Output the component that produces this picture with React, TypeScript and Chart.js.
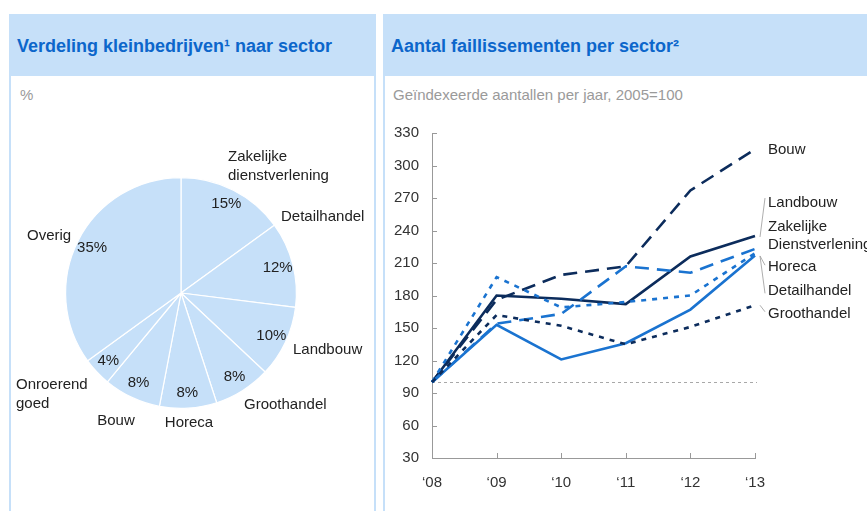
import React, { useEffect, useRef } from 'react';
import { Chart, registerables } from 'chart.js';

Chart.register(...registerables);

const FONT = '"Liberation Sans", Arial, Helvetica, sans-serif';
const PANEL_BLUE = '#c6e0f9';
const TITLE_BLUE = '#0c66cb';
const NAVY = '#0c2c5c';
const BLUE = '#1a73d0';
const TEXT_SIZE = 15;

// ---------- Pie data ----------
const sectors = [
  'Zakelijke dienstverlening',
  'Detailhandel',
  'Landbouw',
  'Groothandel',
  'Horeca',
  'Bouw',
  'Onroerend goed',
  'Overig',
];
const shares = [15, 12, 10, 8, 8, 8, 4, 35];
const sectorLabelLines = [
  ['Zakelijke', 'dienstverlening'],
  ['Detailhandel'],
  ['Landbouw'],
  ['Groothandel'],
  ['Horeca'],
  ['Bouw'],
  ['Onroerend', 'goed'],
  ['Overig'],
];

// label placement relative to pie centre (layout only)
const sectorLabelLayout: { dx: number; dy: number; align: CanvasTextAlign }[] = [
  { dx: 47, dy: -136, align: 'left' },
  { dx: 100, dy: -76, align: 'left' },
  { dx: 112, dy: 57, align: 'left' },
  { dx: 63, dy: 112, align: 'left' },
  { dx: 8, dy: 130, align: 'center' },
  { dx: -65, dy: 128, align: 'center' },
  { dx: -165, dy: 92, align: 'left' },
  { dx: -154, dy: -57, align: 'left' },
];

// ---------- Line data ----------
const years = ['\u201808', '\u201809', '\u201810', '\u201811', '\u201812', '\u201813'];
const bouw = [100, 176, 199, 207, 277, 315];
const landbouw = [100, 180, 177, 172, 216, 235];
const zakelijke = [100, 154, 163, 207, 201, 223];
const horeca = [100, 153, 121, 136, 167, 217];
const detailhandel = [100, 197, 169, 174, 180, 219];
const groothandel = [100, 162, 152, 135, 151, 171];
const yMin = 30;
const yMax = 330;
const yStep = 30;
const baseValue = 100;

const seriesNames = ['Groothandel', 'Detailhandel', 'Horeca', 'Zakelijke Dienstverlening', 'Bouw', 'Landbouw'];
const seriesValues = [groothandel, detailhandel, horeca, zakelijke, bouw, landbouw];
const seriesColors = [NAVY, BLUE, BLUE, BLUE, NAVY, NAVY];
const seriesDashes = [[5, 6], [5, 6], [], [14, 8], [14, 8], []];

// end labels, anchored in value units
const endLabels = [
  { lines: ['Bouw'], at: 314 },
  { lines: ['Landbouw'], at: 265.5 },
  { lines: ['Zakelijke', 'Dienstverlening'], at: 243.5 },
  { lines: ['Horeca'], at: 206.5 },
  { lines: ['Detailhandel'], at: 184.5 },
  { lines: ['Groothandel'], at: 163.5 },
];
const leaders = [
  { from: 234, to: 270 },
  { from: 216.5, to: 208 },
  { from: 216.5, to: 182 },
  { from: 171, to: 165 },
];

const pieLabelPlugin = {
  id: 'pieLabels',
  afterDraw(chart: any) {
    const { ctx } = chart;
    const arcs = chart.getDatasetMeta(0).data as any[];
    ctx.save();
    ctx.font = `${TEXT_SIZE}px ${FONT}`;
    ctx.fillStyle = '#222';
    ctx.textBaseline = 'middle';
    arcs.forEach((arc, i) => {
      const { x, y, startAngle, endAngle, outerRadius } = arc.getProps(
        ['x', 'y', 'startAngle', 'endAngle', 'outerRadius'],
        true
      );
      const mid = (startAngle + endAngle) / 2;
      const r = outerRadius * 0.865;
      ctx.textAlign = 'center';
      ctx.fillText(shares[i] + '%', x + Math.cos(mid) * r, y + Math.sin(mid) * r);
      const lay = sectorLabelLayout[i];
      ctx.textAlign = lay.align;
      sectorLabelLines[i].forEach((t, k) => {
        ctx.fillText(t, x + lay.dx, y + lay.dy + k * 18.5);
      });
    });
    ctx.restore();
  },
};

const linePlugin = {
  id: 'lineExtras',
  beforeDatasetsDraw(chart: any) {
    const { ctx, chartArea, scales } = chart;
    const x = scales.x;
    const y = scales.y;
    const yy = Math.round(y.getPixelForValue(baseValue)) + 0.5;
    ctx.save();
    ctx.strokeStyle = '#a8a8a8';
    ctx.lineWidth = 1;
    ctx.setLineDash([3, 3]);
    ctx.beginPath();
    ctx.moveTo(chartArea.left, yy);
    ctx.lineTo(chartArea.right + 2, yy);
    ctx.stroke();
    ctx.setLineDash([]);
    ctx.strokeStyle = '#999';
    ctx.beginPath();
    y.ticks.forEach((t: any) => {
      const p = Math.round(y.getPixelForValue(t.value)) + 0.5;
      ctx.moveTo(chartArea.left, p);
      ctx.lineTo(chartArea.left + 5, p);
    });
    x.ticks.forEach((_t: any, i: number) => {
      const p = Math.round(x.getPixelForTick(i)) + 0.5;
      ctx.moveTo(p, chartArea.bottom);
      ctx.lineTo(p, chartArea.bottom - 5);
    });
    ctx.stroke();
    ctx.restore();
  },
  afterDraw(chart: any) {
    const { ctx, chartArea, scales } = chart;
    const y = scales.y;
    ctx.save();
    ctx.font = `${TEXT_SIZE}px ${FONT}`;
    ctx.fillStyle = '#222';
    ctx.textBaseline = 'middle';
    ctx.textAlign = 'left';
    endLabels.forEach((l) => {
      const p = y.getPixelForValue(l.at);
      l.lines.forEach((t, k) => ctx.fillText(t, chartArea.right + 13, p + k * 18.3));
    });
    ctx.strokeStyle = '#999';
    ctx.lineWidth = 0.8;
    ctx.beginPath();
    leaders.forEach((ld) => {
      ctx.moveTo(chartArea.right + 5, y.getPixelForValue(ld.from));
      ctx.lineTo(chartArea.right + 10, y.getPixelForValue(ld.to));
    });
    ctx.stroke();
    ctx.restore();
  },
};

function PieChart() {
  const ref = useRef<HTMLCanvasElement>(null);
  useEffect(() => {
    const chart = new Chart(ref.current as HTMLCanvasElement, {
      type: 'pie',
      data: {
        labels: sectors,
        datasets: [
          {
            data: shares,
            backgroundColor: PANEL_BLUE,
            borderColor: '#ffffff',
            borderWidth: 1.2,
          },
        ],
      },
      options: {
        responsive: false,
        maintainAspectRatio: false,
        animation: false,
        layout: { padding: { left: 54, right: 77, top: 101, bottom: 102 } },
        plugins: { legend: { display: false }, tooltip: { enabled: false } },
      },
      plugins: [pieLabelPlugin],
    } as any);
    return () => chart.destroy();
  }, []);
  return (
    <canvas
      ref={ref}
      width={363}
      height={435}
      style={{ position: 'absolute', left: 11, top: 76, width: 363, height: 435 }}
    />
  );
}

function LineChart() {
  const ref = useRef<HTMLCanvasElement>(null);
  useEffect(() => {
    const chart = new Chart(ref.current as HTMLCanvasElement, {
      type: 'line',
      data: {
        labels: years,
        datasets: seriesValues.map((vals, i) => ({
          label: seriesNames[i],
          data: vals,
          borderColor: seriesColors[i],
          backgroundColor: seriesColors[i],
          borderDash: seriesDashes[i],
          borderWidth: 2.6,
          pointRadius: 0,
          tension: 0,
          fill: false,
        })),
      },
      options: {
        responsive: false,
        maintainAspectRatio: false,
        animation: false,
        layout: { padding: { top: 57, right: 112, left: 0, bottom: 0 } },
        plugins: { legend: { display: false }, tooltip: { enabled: false } },
        scales: {
          x: {
            offset: false,
            grid: { display: false, drawTicks: false },
            border: { display: true, color: '#999', width: 1 },
            ticks: {
              font: { size: TEXT_SIZE, family: FONT },
              color: '#333',
              padding: 16,
              maxRotation: 0,
              autoSkip: false,
            },
            afterFit: (s: any) => {
              s.height = 53;
            },
          },
          y: {
            min: yMin,
            max: yMax,
            grid: { display: false, drawTicks: false },
            border: { display: true, color: '#999', width: 1 },
            ticks: {
              stepSize: yStep,
              font: { size: TEXT_SIZE, family: FONT },
              color: '#333',
              padding: 13,
            },
            afterFit: (s: any) => {
              s.width = 47;
            },
          },
        },
      },
      plugins: [linePlugin],
    } as any);
    return () => chart.destroy();
  }, []);
  return (
    <canvas
      ref={ref}
      width={482}
      height={435}
      style={{ position: 'absolute', left: 385, top: 76, width: 482, height: 435 }}
    />
  );
}

const titleStyle: React.CSSProperties = {
  position: 'absolute',
  top: 36,
  fontFamily: FONT,
  fontWeight: 'bold',
  fontSize: 18,
  lineHeight: '20px',
  color: TITLE_BLUE,
  whiteSpace: 'nowrap',
};
const subStyle: React.CSSProperties = {
  position: 'absolute',
  top: 86,
  fontFamily: FONT,
  fontSize: 15,
  lineHeight: '17px',
  color: '#9a9a9a',
  whiteSpace: 'nowrap',
};

export default function App() {
  return (
    <div
      style={{
        position: 'absolute',
        left: 0,
        top: 0,
        width: 867,
        height: 511,
        overflow: 'hidden',
        background: '#fff',
      }}
    >
      {/* left panel */}
      <div style={{ position: 'absolute', left: 9, top: 14, width: 367, height: 62, background: PANEL_BLUE }} />
      <div
        style={{
          position: 'absolute',
          left: 9,
          top: 76,
          width: 367,
          height: 435,
          boxSizing: 'border-box',
          borderLeft: `2px solid ${PANEL_BLUE}`,
          borderRight: `2px solid ${PANEL_BLUE}`,
        }}
      />
      <div style={{ ...titleStyle, left: 17 }}>Verdeling kleinbedrijven¹ naar sector</div>
      <div style={{ ...subStyle, left: 20 }}>%</div>
      <PieChart />

      {/* right panel */}
      <div style={{ position: 'absolute', left: 383, top: 14, width: 484, height: 62, background: PANEL_BLUE }} />
      <div
        style={{
          position: 'absolute',
          left: 383,
          top: 76,
          width: 2,
          height: 435,
          background: PANEL_BLUE,
        }}
      />
      <div style={{ ...titleStyle, left: 391 }}>Aantal faillissementen per sector²</div>
      <div style={{ ...subStyle, left: 393 }}>Geïndexeerde aantallen per jaar, 2005=100</div>
      <LineChart />
    </div>
  );
}
